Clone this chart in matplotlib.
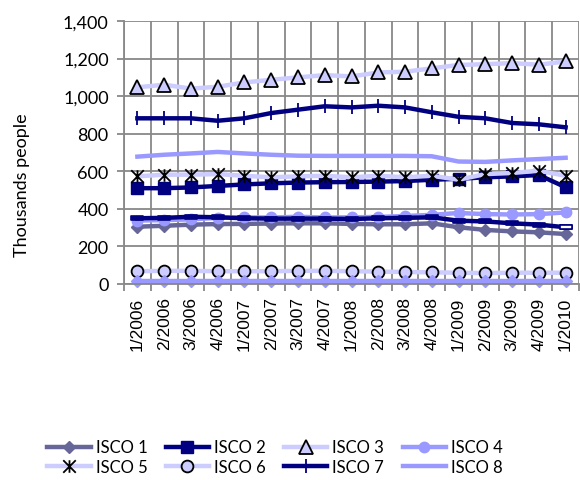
import numpy as np
import matplotlib
matplotlib.use('Agg')
import matplotlib.pyplot as plt
from matplotlib.path import Path

quarters = ['1/2006', '2/2006', '3/2006', '4/2006', '1/2007', '2/2007', '3/2007', '4/2007',
            '1/2008', '2/2008', '3/2008', '4/2008', '1/2009', '2/2009', '3/2009', '4/2009', '1/2010']

isco1 = [305, 310, 316, 319, 320, 322, 323, 323, 320, 318, 318, 323, 302, 288, 280, 275, 266]
isco2 = [510, 510, 514, 522, 530, 536, 540, 542, 543, 545, 548, 555, 560, 568, 573, 580, 515]
isco3 = [1047, 1061, 1040, 1050, 1073, 1087, 1100, 1112, 1105, 1126, 1130, 1148, 1166, 1170, 1176, 1167, 1185]
isco4 = [338, 340, 344, 352, 355, 354, 358, 354, 355, 357, 362, 368, 378, 372, 370, 372, 381]
isco5 = [573, 582, 582, 585, 576, 568, 573, 576, 568, 576, 568, 576, 555, 585, 591, 603, 576]
isco6 = [68, 70, 70, 68, 68, 68, 70, 70, 68, 66, 64, 62, 60, 58, 60, 60, 60]
isco7 = [882, 882, 882, 869, 882, 910, 928, 946, 940, 949, 940, 914, 890, 882, 857, 850, 834]
isco8 = [678, 688, 695, 703, 695, 688, 683, 682, 682, 682, 682, 680, 652, 650, 658, 665, 672]
isco9 = [350, 352, 358, 355, 350, 348, 348, 348, 346, 350, 352, 355, 337, 333, 323, 316, 302]
isco0 = [15, 15, 15, 15, 15, 15, 15, 15, 15, 15, 15, 15, 15, 15, 15, 15, 15]

# excel style markers: X with a vertical bar, and a flat dash box
star = Path([(-1, -1), (1, 1), (-1, 1), (1, -1), (0, -1), (0, 1)],
            [Path.MOVETO, Path.LINETO, Path.MOVETO, Path.LINETO, Path.MOVETO, Path.LINETO])
dash = Path([(-1, -0.35), (1, -0.35), (1, 0.35), (-1, 0.35), (-1, -0.35)],
            [Path.MOVETO, Path.LINETO, Path.LINETO, Path.LINETO, Path.CLOSEPOLY])

navy = '#000080'
slate = '#666699'
lilac = '#CCCCFF'
periw = '#9999FF'

fig = plt.figure(figsize=(5.8, 4.81), dpi=100)
ax = fig.add_axes([124 / 580, 1 - 285 / 481, 455 / 580, 263 / 481])

x = np.arange(len(quarters))
lw = 3.2

h1, = ax.plot(x, isco1, color=slate, lw=lw, marker='D', ms=6, mfc=slate, mec=slate, label='ISCO 1', clip_on=False)
h2, = ax.plot(x, isco2, color=navy, lw=lw, marker='s', ms=8.5, mfc=navy, mec=navy, label='ISCO 2', clip_on=False)
h3, = ax.plot(x, isco3, color=lilac, lw=lw, marker='^', ms=10, mfc=lilac, mec='black', mew=1.3, label='ISCO 3', clip_on=False)
h4, = ax.plot(x, isco4, color=periw, lw=lw, marker='o', ms=7.5, mfc=periw, mec=periw, label='ISCO 4', clip_on=False)
h5, = ax.plot(x, isco5, color=lilac, lw=lw, marker=star, ms=9, mfc='none', mec='black', mew=1.3, label='ISCO 5', clip_on=False)
h6, = ax.plot(x, isco6, color=lilac, lw=lw, marker='o', ms=8.5, mfc=lilac, mec='black', mew=1.3, label='ISCO 6', clip_on=False)
h7, = ax.plot(x, isco7, color=navy, lw=lw, marker='|', ms=10, mec=navy, mew=1.3, label='ISCO 7', clip_on=False)
h8, = ax.plot(x, isco8, color=periw, lw=lw, label='ISCO 8', clip_on=False)
# dash markers blend into the navy line, only the last one shows its white box
ax.plot(x, isco9, color=navy, lw=lw, marker=dash, ms=8, mfc=navy, mec=navy, mew=1.2, clip_on=False)
ax.plot(x[-1:], isco9[-1:], ls='none', marker=dash, ms=8, mfc='white', mec=navy, mew=1.2, clip_on=False)
ax.plot(x, isco0, color=periw, lw=lw, marker='D', ms=6, mfc=periw, mec=periw, clip_on=False)

ax.set_xlim(-0.5, len(quarters) - 0.5)
ax.set_ylim(0, 1400)
ax.set_yticks(range(0, 1401, 200))
ax.set_yticklabels([f'{v:,}' for v in range(0, 1401, 200)], family='Lato', fontsize=13)
ax.set_xticks(x)
ax.set_xticklabels(quarters, rotation=90, family='Liberation Sans', fontsize=12.5)
ax.set_xticks(np.arange(-0.5, len(quarters)), minor=True)
ax.tick_params(axis='x', which='major', length=0, pad=9)
ax.tick_params(axis='x', which='minor', length=5, color='#888888', width=1.3)
ax.tick_params(axis='y', length=5, color='#888888', width=1.3, pad=6)

ax.grid(axis='y', which='major', color='#888888', lw=1.3)
ax.grid(axis='x', which='minor', color='#888888', lw=1.3)
ax.set_axisbelow(True)
for side in ['top', 'right']:
    ax.spines[side].set_visible(False)
for side in ['left', 'bottom']:
    ax.spines[side].set_color('#888888')
    ax.spines[side].set_linewidth(1.3)

fig.text(22 / 580, 1 - 185 / 481, 'Thousands people', rotation=90, ha='center', va='center',
         family='Lato', fontsize=13)

# legend fills row by row: 1 2 3 4 / 5 6 7 8
handles = [h1, h5, h2, h6, h3, h7, h4, h8]
fig.legend(handles=handles, labels=[h.get_label() for h in handles], ncol=4, loc='center',
           bbox_to_anchor=(275 / 580, 1 - 458 / 481), frameon=False, prop={'family': 'Lato', 'size': 12},
           handlelength=2.6, handletextpad=0.3, columnspacing=1.1, labelspacing=0.2, borderpad=0)

fig.savefig('out.png', dpi=100)
